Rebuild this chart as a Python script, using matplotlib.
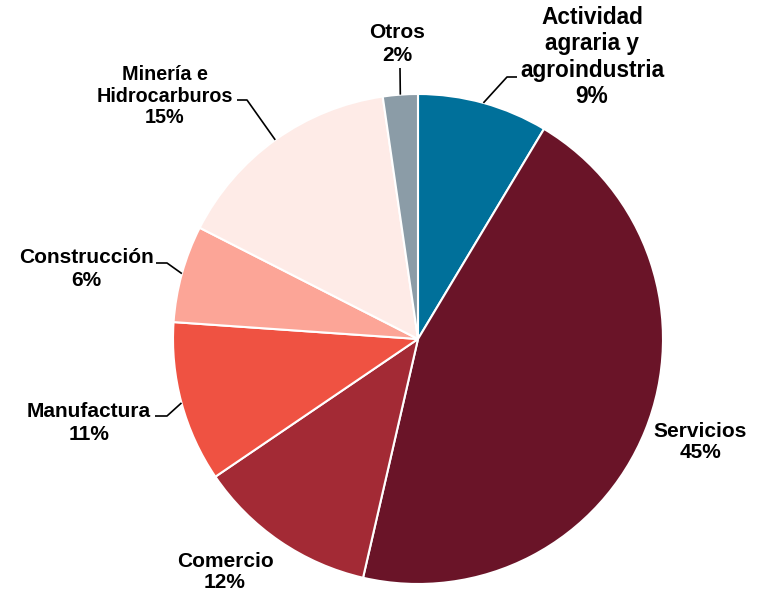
import numpy as np
import matplotlib
matplotlib.use("Agg")
import matplotlib.pyplot as plt

categories = ["Actividad\nagraria y\nagroindustria", "Servicios", "Comercio",
              "Manufactura", "Construcción", "Minería e\nHidrocarburos", "Otros"]
shares = [8.6, 45.0, 11.9, 10.6, 6.4, 15.2, 2.3]
colors = ["#00709A", "#6A1428", "#A32A35", "#EF5242", "#FCA597", "#FEEBE7", "#8B9CA7"]

W, H = 758, 593
fig = plt.figure(figsize=(W / 100, H / 100), dpi=100)
ax = fig.add_axes([0, 0, 1, 1])
ax.axis("off")

cx, cy, R = 418, H - 339, 245
wedges, _ = ax.pie(shares, colors=colors, startangle=90, counterclock=False,
                   center=(cx, cy), radius=R,
                   wedgeprops=dict(edgecolor="white", linewidth=1.5))
ax.set_xlim(0, W)
ax.set_ylim(0, H)
ax.set_aspect("equal")

# label layout: text centre (pixels), font size, line spacing, leader points (pixels)
layout = {
    0: dict(xy=(592, 57), fs=16.3, ls=1.17, lead=[(507, 77), (517, 77)]),
    1: dict(xy=(700, 442), fs=15, ls=1.14, lead=None),
    2: dict(xy=(225, 572), fs=15, ls=1.12, lead=None),
    3: dict(xy=(89, 423), fs=15, ls=1.22, lead=[(167, 416), (155, 416)]),
    4: dict(xy=(86, 269), fs=15, ls=1.22, lead=[(167, 263), (156, 263)]),
    5: dict(xy=(165, 96), fs=14.2, ls=1.15, lead=[(247, 100), (237, 100)]),
    6: dict(xy=(397, 44), fs=15, ls=1.3, lead=[(400, 68)]),
}

for i, (w, name, val) in enumerate(zip(wedges, categories, shares)):
    L = layout[i]
    label = f"{name}\n{val:.0f}%"
    tx, ty = L["xy"]
    ax.text(tx, H - ty, label, ha="center", va="center", fontsize=L["fs"],
            fontweight="bold", family=["Liberation Sans", "DejaVu Sans"],
            linespacing=L["ls"], color="black", multialignment="center")
    if L["lead"]:
        mid = np.deg2rad((w.theta1 + w.theta2) / 2)
        ex, ey = cx + R * np.cos(mid), cy + R * np.sin(mid)
        pts = [(ex, ey)] + [(px, H - py) for px, py in L["lead"]]
        xs, ys = zip(*pts)
        ax.plot(xs, ys, color="black", linewidth=1.2, solid_capstyle="butt")

fig.savefig("out.png", dpi=100, facecolor="white")
